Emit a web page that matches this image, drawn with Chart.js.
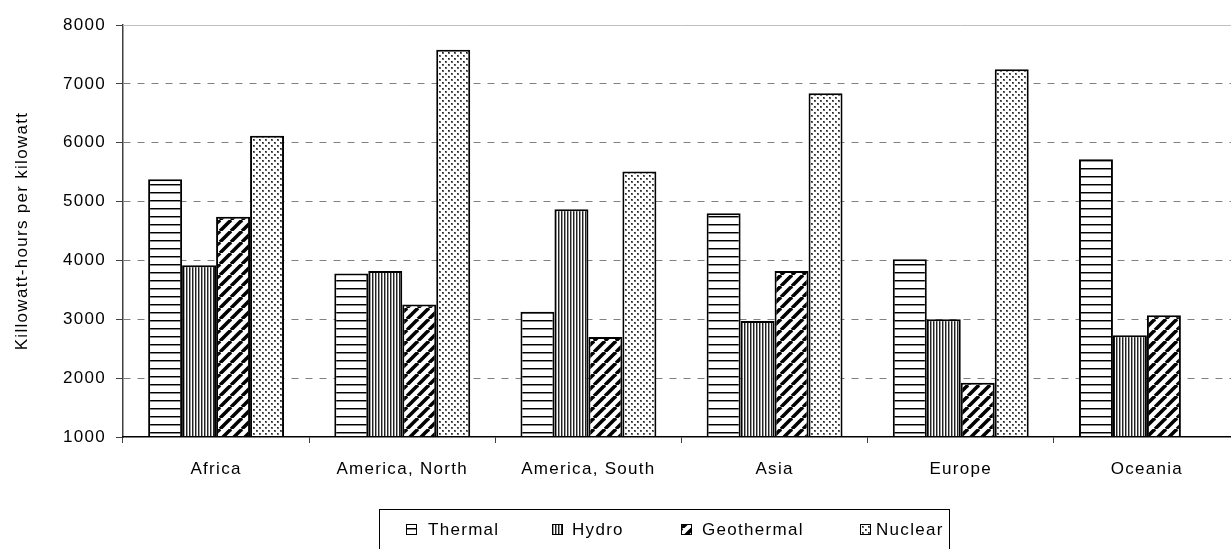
<!DOCTYPE html>
<html>
<head>
<meta charset="utf-8">
<script src="https://cdn.jsdelivr.net/npm/chart.js@4/dist/chart.umd.min.js"></script>
<style>
  html, body { margin: 0; padding: 0; background: #fff; overflow: hidden; }
</style>
</head>
<body>
<canvas id="kwhChart" width="1250" height="549"></canvas>
<script>
// data
const regions = ['Africa', 'America, North', 'America, South', 'Asia', 'Europe', 'Oceania'];
const thermal = [5380, 3780, 3130, 4800, 4020, 5720];
const hydro = [3920, 3820, 4870, 2970, 3000, 2730];
const geothermal = [4740, 3250, 2700, 3820, 1920, 3070];
const nuclear = [6120, 7580, 5510, 6840, 7250, null];
const yTicks = [1000, 2000, 3000, 4000, 5000, 6000, 7000, 8000];

const font = { family: "'Liberation Sans', Arial, sans-serif", size: 17 };

// fill patterns like the old excel hatches
function makePattern(kind) {
    const c = document.createElement('canvas');
    let s = 8;
    if (kind === 'hydro') s = 3;
    if (kind === 'geo') s = 11;
    if (kind === 'dots') s = 6;
    c.width = s;
    c.height = s;
    const g = c.getContext('2d');
    g.fillStyle = '#fff';
    g.fillRect(0, 0, s, s);
    if (kind === 'thermal') {
        g.fillStyle = '#000';
        g.fillRect(0, 0, s, 1);
        g.fillStyle = '#8a8a8a';
        g.fillRect(0, 1, s, 1);
    } else if (kind === 'hydro') {
        g.fillStyle = '#222';
        g.fillRect(0, 0, 1, s);
        g.fillStyle = '#999';
        g.fillRect(1, 0, 1, s);
    } else if (kind === 'geo') {
        g.strokeStyle = '#000';
        g.lineWidth = 3.5;
        [-s, 0, s].forEach(k => {
            g.beginPath();
            g.moveTo(k, s);
            g.lineTo(k + s, 0);
            g.stroke();
        });
    } else if (kind === 'dots') {
        g.fillStyle = '#666';
        g.fillRect(1, 1, 2, 2);
        g.fillRect(4, 4, 2, 2);
        g.fillStyle = '#222';
        g.fillRect(1, 1, 1, 1);
        g.fillRect(4, 4, 1, 1);
    }
    return document.getElementById('kwhChart').getContext('2d').createPattern(c, 'repeat');
}

const fills = [makePattern('thermal'), makePattern('hydro'), makePattern('geo'), makePattern('dots')];
const names = ['Thermal', 'Hydro', 'Geothermal', 'Nuclear'];

// legend box at the bottom + top frame line + wider text
const extras = {
    id: 'extras',
    beforeDraw(chart) {
        chart.ctx.letterSpacing = '1.3px';
    },
    afterDraw(chart) {
        const ctx = chart.ctx;
        const a = chart.chartArea;
        ctx.save();
        ctx.strokeStyle = '#c0c0c0';
        ctx.lineWidth = 1;
        ctx.beginPath();
        ctx.moveTo(a.left, a.top + 0.5);
        ctx.lineTo(a.right, a.top + 0.5);
        ctx.stroke();

        ctx.strokeStyle = '#000';
        ctx.strokeRect(379.5, 509.5, 570, 60);

        const iconX = [406, 552, 681, 860];
        const textX = [428, 572, 702, 876];
        ctx.font = "17px 'Liberation Sans', Arial, sans-serif";
        ctx.textBaseline = 'middle';
        ctx.textAlign = 'left';
        names.forEach((n, i) => {
            ctx.fillStyle = fills[i];
            ctx.fillRect(iconX[i], 524, 11, 11);
            ctx.strokeStyle = '#000';
            ctx.lineWidth = 1;
            ctx.strokeRect(iconX[i] + 0.5, 524.5, 10, 10);
            ctx.fillStyle = '#000';
            ctx.fillText(n, textX[i], 530);
        });
        ctx.restore();
    }
};

const options = {
    responsive: false,
    animation: false,
    layout: { padding: { left: 0, top: 25, right: 10, bottom: 62 } },
    plugins: {
        legend: { display: false },
        tooltip: { enabled: false }
    },
    scales: {
        x: {
            offset: true,
            ticks: { color: '#000', font: font, padding: 16, maxRotation: 0, autoSkip: false },
            grid: { offset: true, drawOnChartArea: false, drawTicks: true, tickLength: 6, tickColor: '#404040', color: '#404040' },
            border: { color: '#000', width: 1.5, z: 1 },
            afterFit: s => { s.height = 50; }
        },
        y: {
            min: 1000,
            max: 8000,
            afterBuildTicks: s => { s.ticks = yTicks.map(v => ({ value: v })); },
            ticks: { color: '#000', font: font, padding: 10, callback: v => String(v) },
            grid: {
                color: c => (c.tick && (c.tick.value === 1000 || c.tick.value === 8000)) ? 'rgba(0,0,0,0)' : '#808080',
                tickColor: '#404040',
                tickLength: 7,
                lineWidth: 1
            },
            border: { color: '#404040', width: 1.5, dash: [7, 7] },
            title: {
                display: true,
                text: 'Killowatt-hours per kilowatt',
                color: '#000',
                font: font,
                padding: { top: 12, bottom: 0 }
            },
            afterFit: s => { s.width = 123; }
        }
    }
};

const chart = new Chart(document.getElementById('kwhChart'), {
    type: 'bar',
    data: {
        labels: regions,
        datasets: [thermal, hydro, geothermal, nuclear].map((d, i) => ({
            label: names[i],
            data: d,
            backgroundColor: fills[i],
            borderColor: '#000',
            borderWidth: 2,
            categoryPercentage: 0.73,
            barPercentage: 1.0
        }))
    },
    options: options,
    plugins: [extras]
});
</script>
</body>
</html>
